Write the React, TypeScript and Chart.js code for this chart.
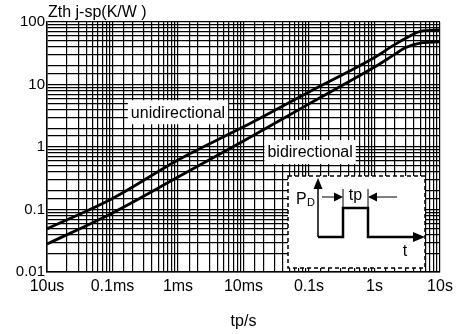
import React, { useEffect, useRef } from "react";
import { Chart, registerables } from "chart.js";

Chart.register(...registerables);

const timeValues = [1e-5, 1e-4, 1e-3, 1e-2, 0.1, 1, 2, 3, 5, 10];
const uniValues = [0.049, 0.15, 0.62, 2.1, 7.6, 27, 43, 55, 71, 75];
const biValues = [0.028, 0.088, 0.33, 1.25, 4.9, 19, 30, 39, 46, 48];

const xTickLabels: Record<string, string> = {
  "-5": "10us",
  "-4": "0.1ms",
  "-3": "1ms",
  "-2": "10ms",
  "-1": "0.1s",
  "0": "1s",
  "1": "10s",
};
const yTickLabels: Record<string, string> = {
  "-2": "0.01",
  "-1": "0.1",
  "0": "1",
  "1": "10",
  "2": "100",
};

const seriesNames = ["unidirectional", "bidirectional"];
const labelAnchors = [
  { x: 1e-3, y: 3.6 },
  { x: 0.104, y: 0.83 },
];
const yAxisTitle = "Zth j-sp(K/W )";
const xAxisTitle = "tp/s";

const FONT = "'Liberation Sans', Arial, sans-serif";

function decadeKey(v: number): string | null {
  const l = Math.log10(v);
  const r = Math.round(l);
  if (Math.abs(l - r) < 1e-6) return String(r);
  return null;
}

const overlayPlugin = {
  id: "overlay",
  afterDraw(chart: any) {
    const ctx = chart.ctx as CanvasRenderingContext2D;
    const area = chart.chartArea;
    const xs = chart.scales.x;
    const ys = chart.scales.y;
    ctx.save();
    // y axis title
    ctx.fillStyle = "#000";
    ctx.font = `16px ${FONT}`;
    ctx.textAlign = "left";
    ctx.textBaseline = "middle";
    ctx.fillText(yAxisTitle, area.left + 1, 13);

    // series labels
    ctx.font = `16px ${FONT}`;
    seriesNames.forEach((name, i) => {
      const px = xs.getPixelForValue(labelAnchors[i].x);
      const py = ys.getPixelForValue(labelAnchors[i].y);
      const w = ctx.measureText(name).width + 6;
      const h = 24;
      ctx.fillStyle = "#fff";
      ctx.fillRect(px - w / 2, py - h / 2, w, h);
      ctx.fillStyle = "#000";
      ctx.textAlign = "center";
      ctx.textBaseline = "middle";
      ctx.fillText(name, px, py + 1);
    });

    // inset
    const ox = area.right - 152;
    const oy = area.bottom - 96;
    ctx.fillStyle = "#fff";
    ctx.fillRect(ox, oy, 137, 92);
    ctx.setLineDash([4, 3]);
    ctx.lineWidth = 1.5;
    ctx.strokeStyle = "#000";
    ctx.strokeRect(ox, oy, 137, 92);
    ctx.setLineDash([]);

    const axX = ox + 30;
    const baseY = oy + 61;
    // vertical axis
    ctx.lineWidth = 1.5;
    ctx.beginPath();
    ctx.moveTo(axX, baseY);
    ctx.lineTo(axX, oy + 10);
    ctx.stroke();
    ctx.fillStyle = "#000";
    ctx.beginPath();
    ctx.moveTo(axX, oy + 2);
    ctx.lineTo(axX - 4.5, oy + 13);
    ctx.lineTo(axX + 4.5, oy + 13);
    ctx.closePath();
    ctx.fill();
    // horizontal axis arrow head
    ctx.beginPath();
    ctx.moveTo(ox + 137, baseY);
    ctx.lineTo(ox + 125, baseY - 5);
    ctx.lineTo(ox + 125, baseY + 5);
    ctx.closePath();
    ctx.fill();
    // pulse
    const r1 = ox + 55;
    const r2 = ox + 80;
    const topY = oy + 32;
    ctx.lineWidth = 2.5;
    ctx.beginPath();
    ctx.moveTo(axX, baseY);
    ctx.lineTo(r1, baseY);
    ctx.lineTo(r1, topY);
    ctx.lineTo(r2, topY);
    ctx.lineTo(r2, baseY);
    ctx.lineTo(ox + 127, baseY);
    ctx.stroke();
    // edge markers
    ctx.lineWidth = 1;
    ctx.beginPath();
    ctx.moveTo(r1, topY);
    ctx.lineTo(r1, oy + 13);
    ctx.moveTo(r2, topY);
    ctx.lineTo(r2, oy + 13);
    ctx.stroke();
    // dimension arrows
    const ay = oy + 21;
    ctx.lineWidth = 1.2;
    ctx.beginPath();
    ctx.moveTo(axX + 4, ay);
    ctx.lineTo(r1 - 6, ay);
    ctx.moveTo(ox + 109, ay);
    ctx.lineTo(r2 + 6, ay);
    ctx.stroke();
    ctx.beginPath();
    ctx.moveTo(r1, ay);
    ctx.lineTo(r1 - 9, ay - 4.5);
    ctx.lineTo(r1 - 9, ay + 4.5);
    ctx.closePath();
    ctx.fill();
    ctx.beginPath();
    ctx.moveTo(r2, ay);
    ctx.lineTo(r2 + 9, ay - 4.5);
    ctx.lineTo(r2 + 9, ay + 4.5);
    ctx.closePath();
    ctx.fill();
    // texts
    ctx.textBaseline = "middle";
    ctx.textAlign = "left";
    ctx.font = `16px ${FONT}`;
    ctx.fillText("P", ox + 8, oy + 24);
    ctx.font = `11px ${FONT}`;
    ctx.fillText("D", ox + 19, oy + 27);
    ctx.font = `16px ${FONT}`;
    ctx.textAlign = "center";
    ctx.fillText("tp", (r1 + r2) / 2, oy + 20);
    ctx.fillText("t", ox + 117, oy + 76);
    ctx.restore();
  },
};

export default function App() {
  const ref = useRef<HTMLCanvasElement | null>(null);
  useEffect(() => {
    document.body.style.margin = "0";
    const canvas = ref.current;
    if (!canvas) return;
    const chart = new Chart(canvas, {
      type: "line",
      data: {
        datasets: [
          {
            label: seriesNames[0],
            data: timeValues.map((t, i) => ({ x: t, y: uniValues[i] })),
            borderColor: "#000",
            borderWidth: 2.8,
            pointRadius: 0,
            cubicInterpolationMode: "monotone",
            fill: false,
          },
          {
            label: seriesNames[1],
            data: timeValues.map((t, i) => ({ x: t, y: biValues[i] })),
            borderColor: "#000",
            borderWidth: 2.8,
            pointRadius: 0,
            cubicInterpolationMode: "monotone",
            fill: false,
          },
        ],
      },
      options: {
        responsive: false,
        animation: false,
        layout: { padding: { top: 22, right: 18, left: 0, bottom: 0 } },
        plugins: {
          legend: { display: false },
          tooltip: { enabled: false },
        },
        scales: {
          x: {
            type: "logarithmic",
            min: 1e-5,
            max: 10,
            afterFit: (s: any) => {
              s.height = 62;
            },
            grid: {
              color: "#000",
              lineWidth: 1.2,
              drawTicks: false,
            },
            border: { color: "#000", width: 1.5 },
            ticks: {
              autoSkip: false,
              maxRotation: 0,
              minRotation: 0,
              padding: 5,
              color: "#000",
              font: { family: FONT, size: 16 },
              callback: (v: any) => {
                const k = decadeKey(Number(v));
                return k !== null && xTickLabels[k] ? xTickLabels[k] : "";
              },
            },
            title: {
              display: true,
              text: xAxisTitle,
              color: "#000",
              font: { family: FONT, size: 16 },
              padding: { top: 0, bottom: 3 },
            },
          },
          y: {
            type: "logarithmic",
            min: 0.01,
            max: 100,
            afterFit: (s: any) => {
              s.width = 47;
            },
            grid: {
              color: "#000",
              lineWidth: 1.2,
              drawTicks: false,
            },
            border: { color: "#000", width: 1.5 },
            ticks: {
              autoSkip: false,
              padding: 2,
              color: "#000",
              font: { family: FONT, size: 15 },
              callback: (v: any) => {
                const k = decadeKey(Number(v));
                return k !== null && yTickLabels[k] ? yTickLabels[k] : "";
              },
            },
          },
        },
      },
      plugins: [overlayPlugin],
    } as any);
    return () => chart.destroy();
  }, []);
  return (
    <canvas
      ref={ref}
      width={458}
      height={334}
      style={{ display: "block", width: 458, height: 334 }}
    />
  );
}
